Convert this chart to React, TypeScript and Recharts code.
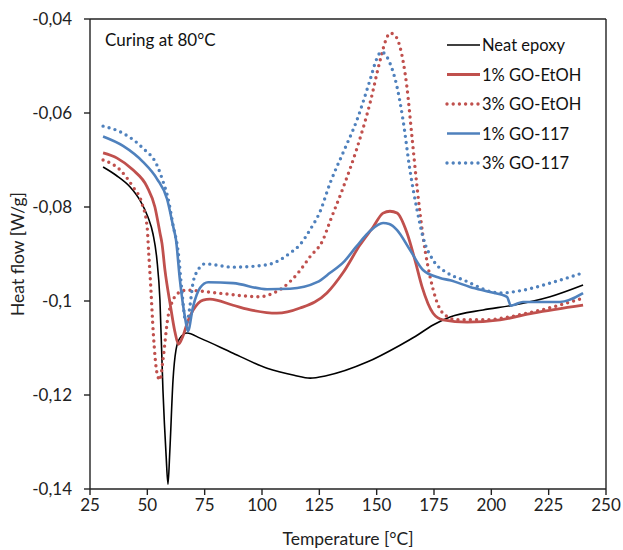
import { Legend, Line, LineChart, ReferenceLine, XAxis, YAxis } from 'recharts'

type Pt = [number, number] // [temperature °C, heat flow W/g]

const xTicks = [25, 50, 75, 100, 125, 150, 175, 200, 225, 250]
const yTicks = [-0.14, -0.12, -0.1, -0.08, -0.06, -0.04]

const neatEpoxy: Pt[] = [
  [30.7, -0.0715], [36.5, -0.0733], [42.4, -0.0757], [46.8, -0.0786], [50.3, -0.0822],
  [52.5, -0.0858], [54.2, -0.0913], [55.5, -0.0998], [56.8, -0.1189], [58.2, -0.133],
  [59.0, -0.139], [59.8, -0.132], [61.2, -0.1168], [62.5, -0.1104], [64.2, -0.1079],
  [67.3, -0.1068], [73.0, -0.1079], [87.4, -0.1111], [102.2, -0.1143], [114.0, -0.1158],
  [121.0, -0.1164], [128.0, -0.1159], [145.8, -0.113], [160.2, -0.1094], [167.0, -0.1075],
  [174.6, -0.1051], [182.0, -0.1034], [196.4, -0.1019], [209.5, -0.1009], [225.6, -0.0991],
  [240.0, -0.0966],
]

const goEtoh1: Pt[] = [
  [30.7, -0.0685], [36.8, -0.0696], [43.7, -0.0721], [49.9, -0.0757], [53.3, -0.08],
  [55.5, -0.0855], [56.4, -0.0878], [57.7, -0.0935], [59.9, -0.1005], [62.0, -0.1065],
  [63.6, -0.1092], [65.5, -0.1075], [67.5, -0.1045], [69.9, -0.102], [74.3, -0.0998],
  [77.3, -0.0996], [87.4, -0.1009], [96.0, -0.102], [106.5, -0.1026], [116.6, -0.1015],
  [128.3, -0.0983], [135.3, -0.094], [142.7, -0.0881], [148.4, -0.0843], [152.8, -0.0813],
  [155.8, -0.0809], [158.9, -0.0813], [163.2, -0.0855], [166.7, -0.0913], [169.8, -0.097],
  [174.6, -0.1026], [178.9, -0.104], [189.4, -0.1045], [203.8, -0.104], [218.2, -0.1026],
  [240.0, -0.1009],
]

const goEtoh3: Pt[] = [
  [30.7, -0.07], [38.1, -0.0721], [43.7, -0.0757], [47.7, -0.0793], [49.9, -0.0842],
  [50.6, -0.0898], [51.4, -0.0962], [52.6, -0.1068], [54.2, -0.1153], [55.5, -0.1168],
  [56.8, -0.1126], [59.0, -0.1034], [61.2, -0.0998], [64.2, -0.0981], [67.3, -0.0977],
  [80.4, -0.0983], [99.1, -0.0991], [104.0, -0.0985], [109.0, -0.0972], [113.0, -0.0955],
  [116.6, -0.0935], [120.9, -0.0906], [126.6, -0.087], [129.7, -0.083], [135.3, -0.076],
  [141.4, -0.0675], [147.1, -0.0579], [151.5, -0.0488], [154.0, -0.0445], [155.8, -0.043],
  [158.0, -0.0435], [160.2, -0.046], [163.2, -0.0545], [165.4, -0.0651], [167.6, -0.0757],
  [170.2, -0.0862], [174.6, -0.0975], [178.9, -0.1026], [185.0, -0.104], [196.4, -0.104],
  [218.2, -0.1023], [240.0, -0.0994],
]

const go117_1: Pt[] = [
  [30.7, -0.065], [39.4, -0.067], [48.1, -0.0704], [54.2, -0.074], [58.6, -0.0783],
  [61.2, -0.084], [62.5, -0.087], [64.2, -0.0955], [66.4, -0.1034], [67.7, -0.1064],
  [69.9, -0.1013], [73.0, -0.0972], [76.5, -0.096], [87.4, -0.0962], [102.2, -0.0975],
  [112.2, -0.0974], [124.0, -0.096], [129.7, -0.094], [136.0, -0.0915], [141.0, -0.0885],
  [147.1, -0.0851], [152.8, -0.0834], [155.5, -0.0836], [158.9, -0.0849], [164.5, -0.0891],
  [170.2, -0.0934], [177.6, -0.0951], [182.0, -0.0956], [190.7, -0.097], [199.4, -0.0981],
  [206.8, -0.0991], [208.5, -0.101], [210.0, -0.1008], [213.8, -0.1002], [229.9, -0.1002],
  [240.0, -0.0983],
]

const go117_3: Pt[] = [
  [30.7, -0.0628], [39.4, -0.0643], [48.1, -0.0675], [54.2, -0.0711], [56.8, -0.0745],
  [59.0, -0.0781], [61.2, -0.0838], [63.4, -0.0894], [65.2, -0.0985], [66.5, -0.104],
  [67.3, -0.1045], [68.6, -0.101], [69.9, -0.0962], [72.1, -0.0934], [75.1, -0.0921],
  [87.4, -0.0928], [102.2, -0.0923], [108.0, -0.0912], [112.2, -0.0898], [116.6, -0.088],
  [121.0, -0.0848], [125.3, -0.081], [129.7, -0.0749], [135.3, -0.0685], [141.4, -0.0615],
  [147.1, -0.053], [150.0, -0.0485], [152.0, -0.047], [155.8, -0.0494], [158.9, -0.0545],
  [161.5, -0.0615], [164.5, -0.0721], [167.6, -0.0806], [170.2, -0.0864], [174.6, -0.0913],
  [180.7, -0.094], [187.7, -0.0955], [203.8, -0.0983], [213.8, -0.0977], [225.6, -0.0962],
  [240.0, -0.094],
]

const RED = '#c0504d'
const BLUE = '#4f81bd'
const FONT = 'Lato, "Open Sans", sans-serif'

const series = [
  { name: 'Neat epoxy', pts: neatEpoxy, color: '#000000', width: 1.6, dotted: false },
  { name: '1% GO-EtOH', pts: goEtoh1, color: RED, width: 2.8, dotted: false },
  { name: '3% GO-EtOH', pts: goEtoh3, color: RED, width: 3.4, dotted: true },
  { name: '1% GO-117', pts: go117_1, color: BLUE, width: 2.6, dotted: false },
  { name: '3% GO-117', pts: go117_3, color: BLUE, width: 3.4, dotted: true },
]

const toRows = (pts: Pt[]) => pts.map(([t, hf]) => ({ t, hf }))
const fmtComma = (v: number) => String(v).replace('.', ',')

function LegendBox() {
  return (
    <svg width={180} height={150} style={{ display: 'block' }}>
      {series.map((s, i) => {
        const y = 15 + i * 29.5
        return (
          <g key={s.name}>
            <line
              x1={4}
              x2={37}
              y1={y}
              y2={y}
              stroke={s.color}
              strokeWidth={s.dotted ? 3.4 : s.width}
              strokeDasharray={s.dotted ? '0 6.2' : undefined}
              strokeLinecap={s.dotted ? 'round' : 'butt'}
            />
            <text x={39} y={y} dominantBaseline="central" fontSize={16.5} fill="#111" fontFamily={FONT}>
              {s.name}
            </text>
          </g>
        )
      })}
    </svg>
  )
}

export default function App() {
  return (
    <div style={{ position: 'absolute', left: 0, top: 0, background: '#fff' }}>
      <LineChart width={623} height={550} margin={{ top: 19, right: 17, left: 0, bottom: 0 }}>
        <XAxis
          dataKey="t"
          type="number"
          domain={[25, 250]}
          ticks={xTicks}
          allowDataOverflow
          stroke="#222"
          strokeWidth={1.4}
          tick={{ fill: '#222', fontSize: 17, fontFamily: FONT }}
          tickSize={6}
          tickMargin={4}
          height={61}
          label={{
            value: 'Temperature [°C]',
            position: 'insideBottom',
            offset: 5,
            style: { fill: '#222', fontSize: 17.5, fontFamily: FONT },
          }}
        />
        <YAxis
          type="number"
          domain={[-0.14, -0.04]}
          ticks={yTicks}
          allowDataOverflow
          width={90}
          stroke="#222"
          strokeWidth={1.4}
          tick={{ fill: '#222', fontSize: 17, fontFamily: FONT }}
          tickSize={6}
          tickMargin={12}
          tickFormatter={fmtComma}
          label={{
            value: 'Heat flow [W/g]',
            angle: -90,
            position: 'insideLeft',
            offset: 18,
            style: { fill: '#222', fontSize: 17.5, fontFamily: FONT, textAnchor: 'middle' },
          }}
        />
        <ReferenceLine
          y={-0.04}
          stroke="#222"
          strokeWidth={1.4}
          label={{
            value: 'Curing at 80°C',
            position: 'insideTopLeft',
            offset: 15,
            style: { fill: '#111', fontSize: 17, fontFamily: FONT },
          }}
        />
        <ReferenceLine x={250} stroke="#222" strokeWidth={1.4} />
        {series.map((s) => (
          <Line
            key={s.name}
            data={toRows(s.pts)}
            dataKey="hf"
            name={s.name}
            type="monotone"
            stroke={s.color}
            strokeWidth={s.width}
            strokeDasharray={s.dotted ? '0 6.2' : undefined}
            strokeLinecap={s.dotted ? 'round' : 'butt'}
            dot={false}
            activeDot={false}
            isAnimationActive={false}
          />
        ))}
        <Legend
          layout="vertical"
          align="center"
          verticalAlign="middle"
          wrapperStyle={{ top: 30, left: 443, width: 'auto' }}
          content={() => <LegendBox />}
        />
      </LineChart>
    </div>
  )
}
